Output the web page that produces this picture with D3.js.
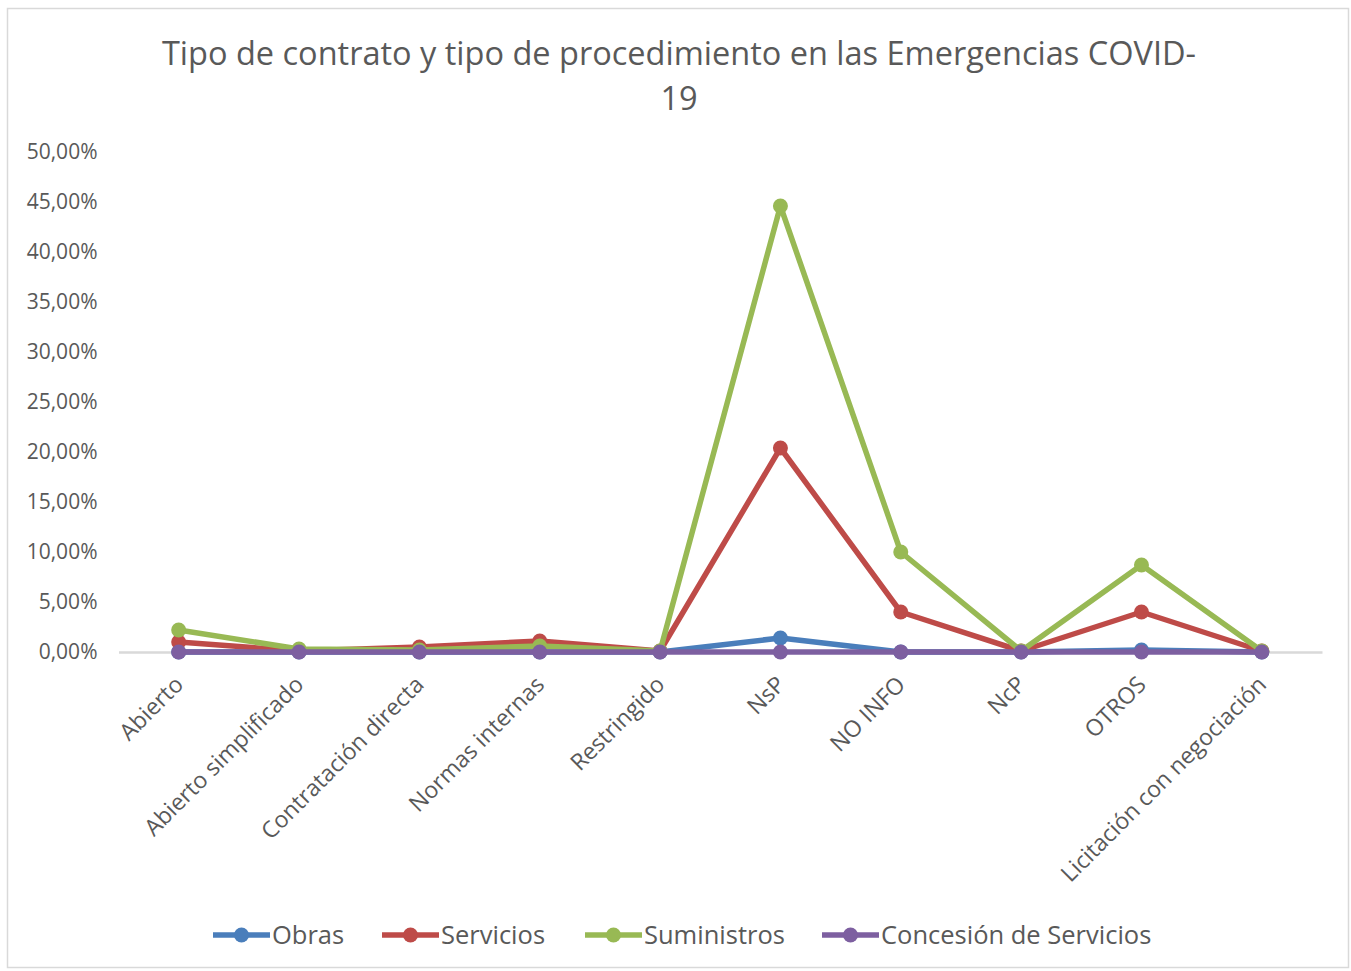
<!DOCTYPE html>
<html>
<head>
<meta charset="utf-8">
<script src="https://cdn.jsdelivr.net/npm/d3@7"></script>
<style>
  body { margin: 0; background: #fff; }
  svg { display: block; font-family: "Open Sans", "Noto Sans", sans-serif; }
</style>
</head>
<body>
<div id="chart"></div>
<script>
'use strict';

const categories = ['Abierto', 'Abierto simplificado', 'Contratación directa', 'Normas internas',
  'Restringido', 'NsP', 'NO INFO', 'NcP', 'OTROS', 'Licitación con negociación'];
const obras      = [0, 0, 0, 0, 0, 1.4, 0, 0, 0.2, 0];
const servicios  = [1.0, 0.1, 0.5, 1.1, 0.1, 20.4, 4.0, 0.1, 4.0, 0.1];
const suministros = [2.2, 0.3, 0.2, 0.6, 0.1, 44.6, 10.0, 0.1, 8.7, 0.1];
const concesion  = [0, 0, 0, 0, 0, 0, 0, 0, 0, 0];
const yTicks = [0, 5, 10, 15, 20, 25, 30, 35, 40, 45, 50];
const titleLines = ['Tipo de contrato y tipo de procedimiento en las Emergencias COVID-', '19'];

const series = [
  { name: 'Obras', values: obras, color: '#4a7ebb' },
  { name: 'Servicios', values: servicios, color: '#be4b48' },
  { name: 'Suministros', values: suministros, color: '#98b954' },
  { name: 'Concesión de Servicios', values: concesion, color: '#7d5fa0' }
];

const W = 1351, H = 971;
const plot = { left: 118.5, right: 1322, top: 152, bottom: 652 };

const $svg = d3.select('#chart').append('svg').attr('width', W).attr('height', H);

// chart frame
$svg.append('rect')
  .attr('x', 7.5).attr('y', 8.5).attr('width', 1341).attr('height', 959)
  .attr('fill', '#fff').attr('stroke', '#d9d9d9').attr('stroke-width', 1.5);

// title
$svg.append('text')
  .attr('text-anchor', 'middle')
  .attr('fill', '#595959')
  .style('font-size', '32.5px')
  .selectAll('tspan')
  .data(titleLines)
  .enter()
  .append('tspan')
  .attr('x', 679)
  .attr('y', (d, i) => 65 + i * 45)
  .text((d) => d);

const x = d3.scaleBand().domain(categories).range([plot.left, plot.right]);
const y = d3.scaleLinear().domain([0, 50]).range([plot.bottom, plot.top]);
const cx = (c) => x(c) + x.bandwidth() / 2;

// y axis labels
const yAxis = d3.axisLeft(y).tickValues(yTicks).tickSize(0).tickPadding(21)
  .tickFormat((d) => d3.format('.2f')(d).replace('.', ',') + '%');
const $yAxis = $svg.append('g').attr('transform', 'translate(' + plot.left + ',0)').call(yAxis);
$yAxis.select('.domain').remove();
$yAxis.selectAll('text').attr('fill', '#595959').style('font-size', '21px')
  .style('font-family', '"Open Sans", sans-serif');

// x axis
const xAxis = d3.axisBottom(x).tickSize(0).tickPadding(0);
const $xAxis = $svg.append('g').attr('transform', 'translate(0,' + plot.bottom + ')').call(xAxis);
$xAxis.select('.domain').attr('stroke', '#d9d9d9').attr('stroke-width', 2.5);
$xAxis.selectAll('text')
  .attr('fill', '#595959')
  .style('font-size', '23px')
  .style('font-family', '"Open Sans", sans-serif')
  .attr('text-anchor', 'end')
  .attr('dy', 0)
  .attr('y', 0)
  .attr('transform', 'translate(6,34) rotate(-45)');

// lines
const line = d3.line()
  .x((d, i) => cx(categories[i]))
  .y((d) => y(d));

const $series = $svg.append('g').selectAll('.series')
  .data(series)
  .enter()
  .append('g')
  .attr('class', 'series');

$series.append('path')
  .attr('fill', 'none')
  .attr('stroke', (d) => d.color)
  .attr('stroke-width', 5.5)
  .attr('stroke-linejoin', 'round')
  .attr('d', (d) => line(d.values));

$series.selectAll('circle')
  .data((d) => d.values.map((v) => ({ v: v, color: d.color })))
  .enter()
  .append('circle')
  .attr('cx', (d, i) => cx(categories[i]))
  .attr('cy', (d) => y(d.v))
  .attr('r', 7.5)
  .attr('fill', (d) => d.color);

// legend
const legendX = [213, 382, 585, 822];
const $legend = $svg.append('g').selectAll('.legend')
  .data(series)
  .enter()
  .append('g')
  .attr('class', 'legend')
  .attr('transform', (d, i) => 'translate(' + legendX[i] + ',935)');

$legend.append('line')
  .attr('x1', 0).attr('x2', 57)
  .attr('stroke', (d) => d.color).attr('stroke-width', 5.5);
$legend.append('circle')
  .attr('cx', 28.5).attr('r', 7.5)
  .attr('fill', (d) => d.color);
$legend.append('text')
  .attr('x', 59).attr('y', 9)
  .attr('fill', '#595959')
  .style('font-size', '25.5px')
  .text((d) => d.name);
</script>
</body>
</html>
